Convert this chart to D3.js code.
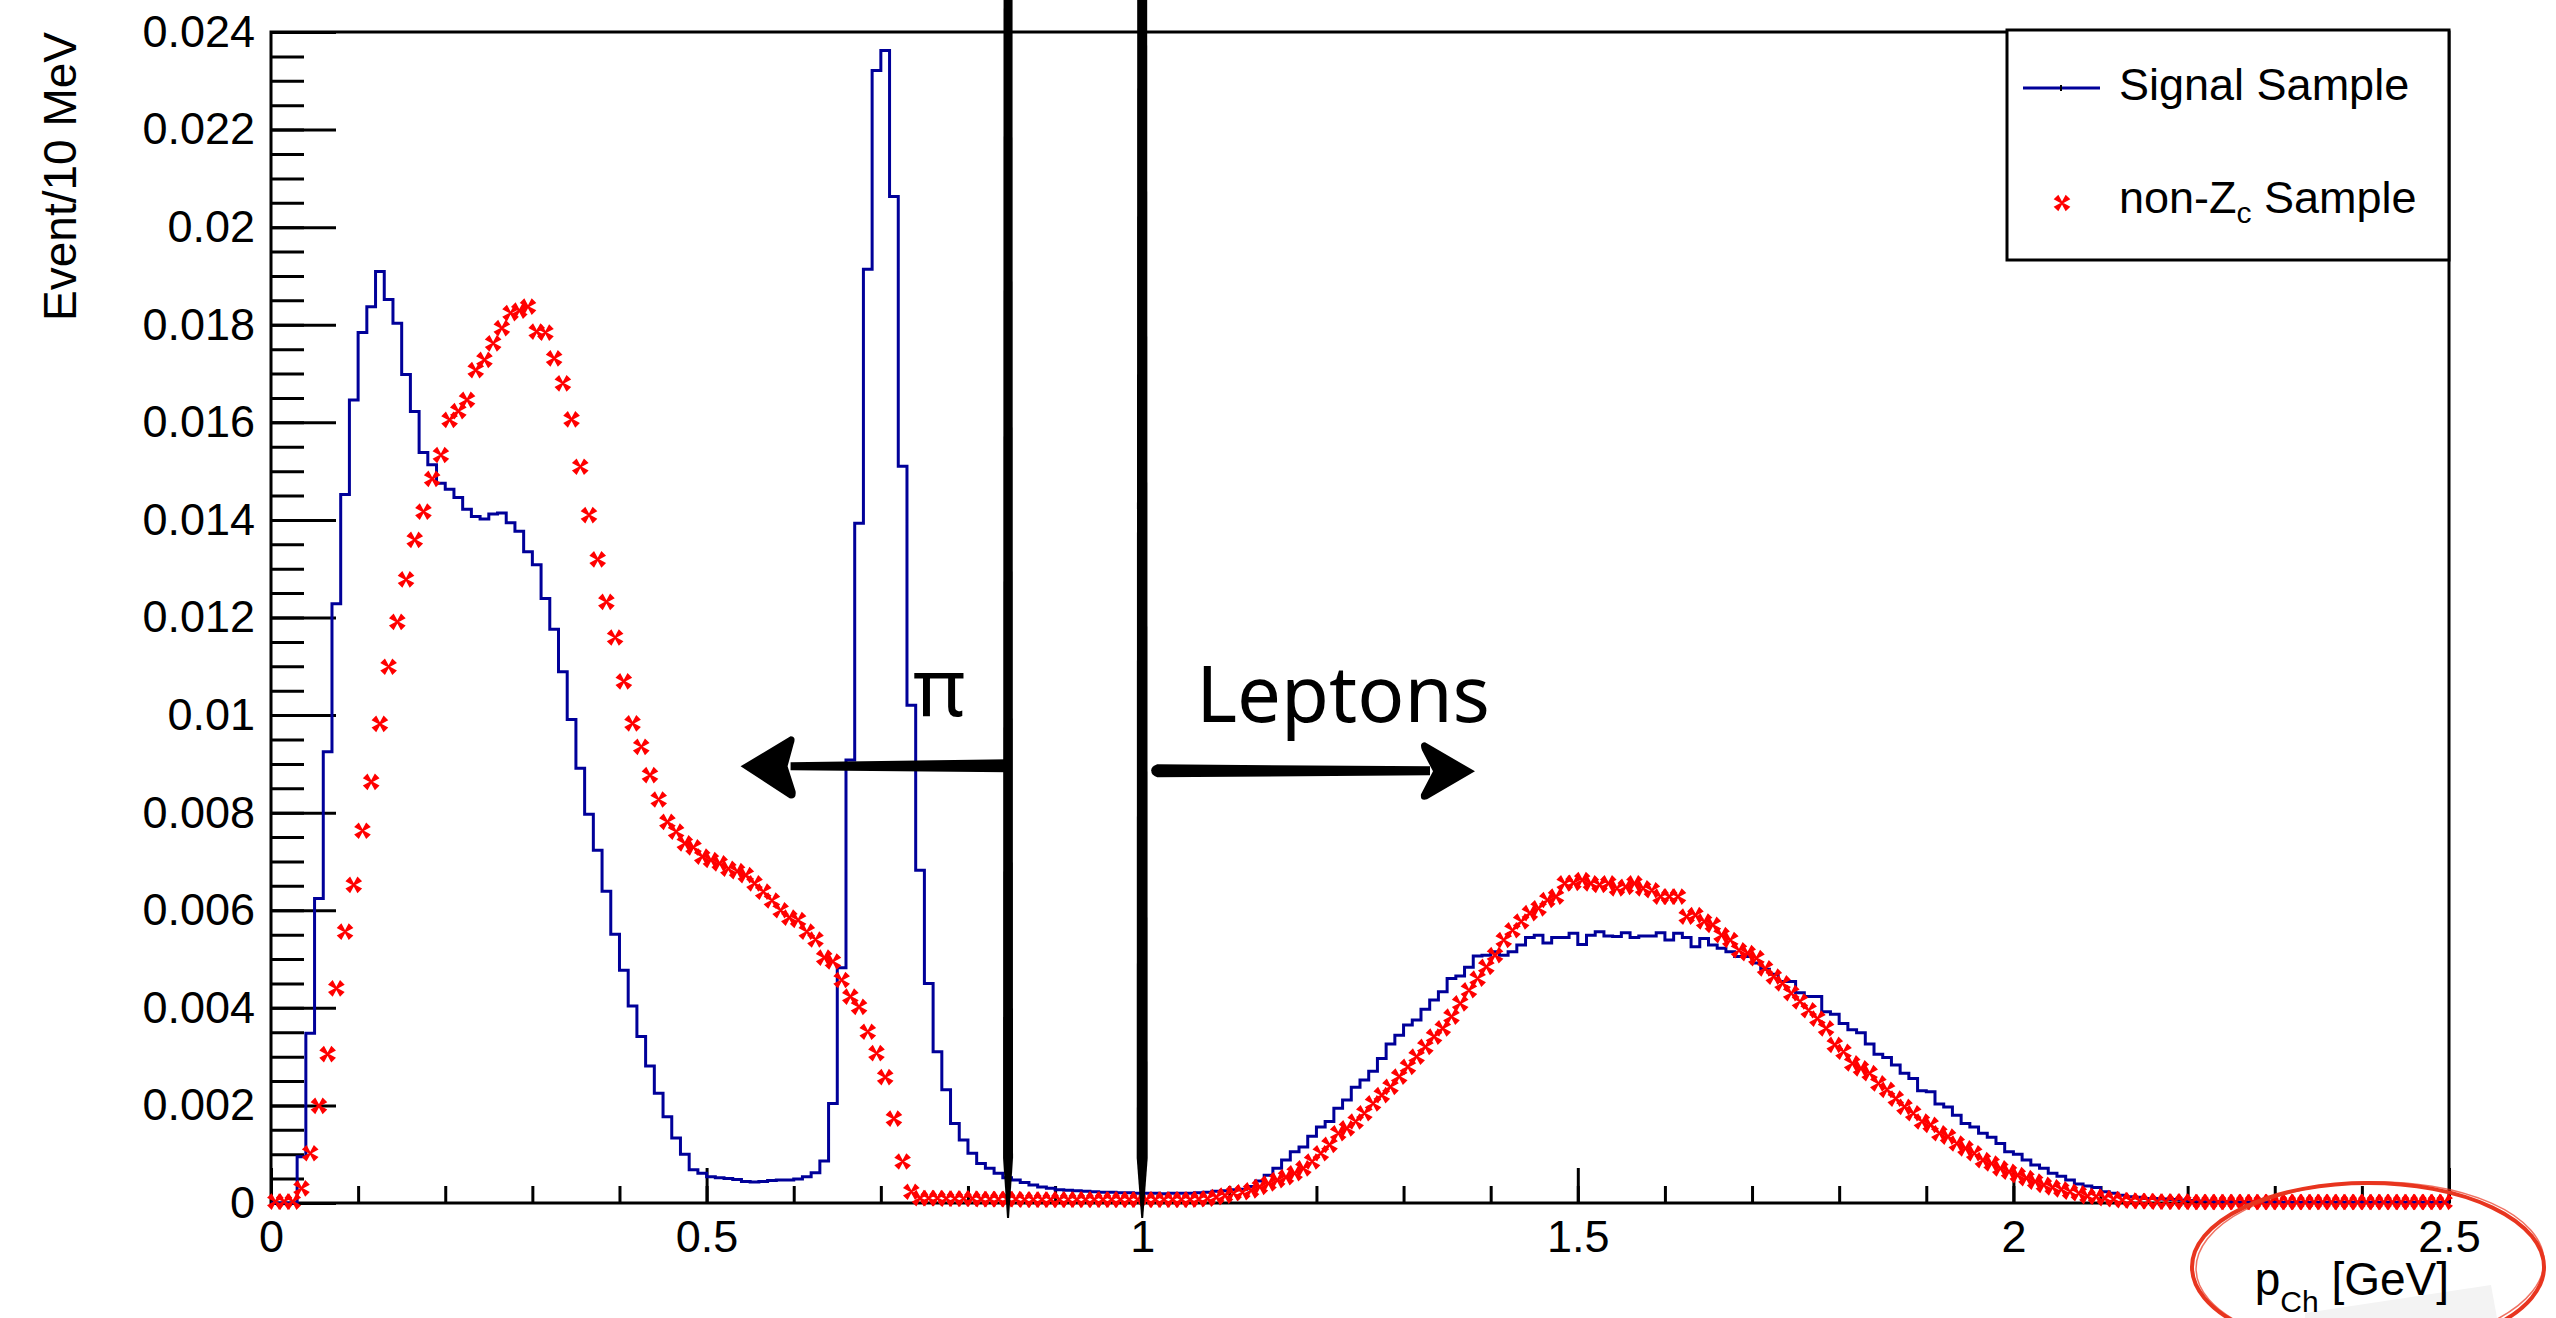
<!DOCTYPE html>
<html lang="en">

<head>
    <meta charset="UTF-8">
    <title>p_Ch - Signal Sample vs non-Zc Sample</title>
    <style>
        html,
        body {
            margin: 0;
            padding: 0;
            background: #fff;
        }

        svg {
            display: block;
        }
    </style>
</head>

<body>
    <div id="chart"></div>
    <script src="https://d3js.org/d3.v7.min.js"></script>

    <script>
        // 10 MeV bins from 0 to 2.5 GeV, contents in units of 1e-3
        const binWidth = 0.01;
        const unit = 1e-3;

        const signalSample = [
            0, 0, 0, 0.95, 3.48, 6.24, 9.25, 12.28, 14.52, 16.46,
            17.84, 18.37, 19.09, 18.52, 18.03, 16.98, 16.22, 15.38, 15.13, 14.75,
            14.63, 14.46, 14.22, 14.07, 14.02, 14.12, 14.14, 13.94, 13.77, 13.35,
            13.08, 12.39, 11.76, 10.89, 9.91, 8.91, 7.97, 7.23, 6.39, 5.51,
            4.77, 4.04, 3.41, 2.81, 2.25, 1.77, 1.33, 1.00, 0.68, 0.61,
            0.54, 0.52, 0.50, 0.48, 0.44, 0.43, 0.44, 0.46, 0.47, 0.47,
            0.49, 0.54, 0.62, 0.86, 2.04, 4.82, 9.08, 13.93, 19.14, 23.21,
            23.62, 20.63, 15.10, 10.20, 6.82, 4.50, 3.10, 2.32, 1.63, 1.29,
            1.02, 0.81, 0.71, 0.61, 0.52, 0.47, 0.42, 0.37, 0.33, 0.30,
            0.27, 0.26, 0.25, 0.24, 0.23, 0.22, 0.22, 0.21, 0.21, 0.20,
            0.20, 0.20, 0.19, 0.20, 0.20, 0.20, 0.21, 0.22, 0.24, 0.25,
            0.27, 0.28, 0.34, 0.45, 0.57, 0.71, 0.88, 1.05, 1.15, 1.37,
            1.56, 1.67, 1.94, 2.11, 2.37, 2.52, 2.70, 2.96, 3.26, 3.44,
            3.65, 3.75, 3.97, 4.16, 4.33, 4.60, 4.65, 4.83, 5.06, 5.08,
            5.15, 5.08, 5.15, 5.29, 5.44, 5.49, 5.33, 5.44, 5.44, 5.53,
            5.30, 5.49, 5.56, 5.47, 5.46, 5.54, 5.44, 5.47, 5.47, 5.54,
            5.39, 5.53, 5.44, 5.25, 5.42, 5.29, 5.22, 5.15, 5.05, 5.05,
            4.92, 4.79, 4.69, 4.54, 4.54, 4.31, 4.23, 4.23, 3.92, 3.87,
            3.68, 3.55, 3.49, 3.26, 3.05, 2.98, 2.83, 2.66, 2.55, 2.30,
            2.28, 2.03, 1.97, 1.80, 1.63, 1.56, 1.43, 1.35, 1.22, 1.05,
            1.00, 0.88, 0.78, 0.71, 0.61, 0.55, 0.47, 0.39, 0.35, 0.32,
            0.23, 0.20, 0.16, 0.13, 0.12, 0.09, 0.09, 0.08, 0.07, 0.06,
            0.05, 0.04, 0.04, 0.03, 0.03, 0.02, 0.02, 0.02, 0.01, 0.01,
            0.01, 0.01, 0.01, 0.01, 0.01, 0.01, 0.01, 0.01, 0.01, 0.01,
            0.01, 0.01, 0.01, 0.01, 0.01, 0.01, 0.01, 0.01, 0.01, 0.01
        ];

        const nonZcSample = [
            0.03, 0.03, 0.03, 0.30, 1.02, 1.99, 3.05, 4.40, 5.56, 6.52,
            7.63, 8.63, 9.82, 10.99, 11.91, 12.78, 13.59, 14.17, 14.84, 15.33,
            16.05, 16.23, 16.46, 17.07, 17.28, 17.62, 17.93, 18.24, 18.29, 18.37,
            17.86, 17.84, 17.31, 16.80, 16.06, 15.09, 14.10, 13.19, 12.32, 11.59,
            10.69, 9.83, 9.35, 8.77, 8.27, 7.81, 7.61, 7.37, 7.29, 7.10,
            7.03, 6.96, 6.85, 6.80, 6.72, 6.55, 6.38, 6.20, 6.00, 5.85,
            5.80, 5.56, 5.40, 5.03, 4.95, 4.57, 4.23, 4.02, 3.51, 3.07,
            2.58, 1.73, 0.85, 0.23, 0.10, 0.10, 0.10, 0.09, 0.09, 0.09,
            0.09, 0.08, 0.08, 0.08, 0.08, 0.08, 0.07, 0.07, 0.07, 0.07,
            0.07, 0.07, 0.07, 0.07, 0.07, 0.07, 0.07, 0.07, 0.07, 0.07,
            0.07, 0.07, 0.07, 0.07, 0.07, 0.07, 0.08, 0.09, 0.12, 0.15,
            0.20, 0.22, 0.26, 0.33, 0.40, 0.47, 0.53, 0.61, 0.71, 0.85,
            1.02, 1.19, 1.43, 1.53, 1.67, 1.84, 2.04, 2.21, 2.38, 2.59,
            2.79, 3.00, 3.20, 3.41, 3.58, 3.82, 4.09, 4.36, 4.60, 4.84,
            5.08, 5.39, 5.59, 5.77, 5.94, 6.04, 6.21, 6.28, 6.55, 6.56,
            6.62, 6.55, 6.52, 6.55, 6.45, 6.48, 6.55, 6.45, 6.41, 6.28,
            6.28, 6.28, 5.87, 5.90, 5.77, 5.70, 5.49, 5.39, 5.18, 5.12,
            5.02, 4.81, 4.64, 4.50, 4.30, 4.13, 3.95, 3.78, 3.58, 3.24,
            3.10, 2.86, 2.76, 2.66, 2.45, 2.32, 2.14, 1.97, 1.84, 1.67,
            1.60, 1.43, 1.36, 1.22, 1.12, 1.02, 0.88, 0.81, 0.71, 0.64,
            0.57, 0.51, 0.44, 0.37, 0.32, 0.28, 0.23, 0.20, 0.14, 0.13,
            0.10, 0.08, 0.06, 0.05, 0.04, 0.04, 0.03, 0.03, 0.03, 0.03,
            0.02, 0.02, 0.02, 0.02, 0.02, 0.02, 0.02, 0.02, 0.02, 0.02,
            0.02, 0.02, 0.02, 0.02, 0.02, 0.02, 0.02, 0.02, 0.02, 0.02,
            0.02, 0.02, 0.02, 0.02, 0.02, 0.02, 0.02, 0.02, 0.02, 0.02
        ];

        const xMajorTicks = [0, 0.5, 1, 1.5, 2, 2.5];
        const yMajorTicks = [0, 0.002, 0.004, 0.006, 0.008, 0.01, 0.012, 0.014, 0.016, 0.018, 0.02, 0.022, 0.024];
        const legendNames = ["Signal Sample", "non-Z", "c", " Sample"];

        // hand-drawn cut positions (GeV) and the arrow level
        const piCut = 0.846;
        const leptonCut = 1.0;
        const arrowLevel = 0.00895;

        const width = 2556;
        const height = 1318;
        const font = '"Liberation Sans", Arial, Helvetica, sans-serif';
        const blue = "#000099";
        const red = "#ff0000";

        const svg = d3.select("#chart").append("svg")
            .attr("width", width)
            .attr("height", height);

        const x = d3.scaleLinear().domain([0, 2.5]).range([271, 2449]);
        const y = d3.scaleLinear().domain([0, 0.024]).range([1203, 32]);

        // ---- frame + axes (ROOT style, ticks pointing inside)
        svg.append("rect")
            .attr("x", x(0)).attr("y", y(0.024))
            .attr("width", x(2.5) - x(0)).attr("height", y(0) - y(0.024))
            .attr("fill", "none").attr("stroke", "#000").attr("stroke-width", 3);

        const styleAxis = g => {
            g.select(".domain").remove();
            g.selectAll("line").attr("stroke", "#000").attr("stroke-width", 3);
            g.selectAll("text").attr("fill", "#000");
            g.attr("font-family", font).attr("font-size", 45);
        };
        const fmt = d => String(+d.toFixed(3));

        svg.append("g").attr("transform", `translate(0,${y(0)})`)
            .call(d3.axisBottom(x).tickValues(d3.range(0, 26).map(i => i / 10)).tickSize(-17).tickFormat(""))
            .call(styleAxis);
        svg.append("g").attr("transform", `translate(0,${y(0)})`)
            .call(d3.axisBottom(x).tickValues(xMajorTicks).tickSize(-35).tickPadding(17).tickFormat(fmt))
            .call(styleAxis);

        svg.append("g").attr("transform", `translate(${x(0)},0)`)
            .call(d3.axisLeft(y).tickValues(d3.range(0, 49).map(i => i * 0.0005)).tickSize(-33).tickFormat(""))
            .call(styleAxis);
        svg.append("g").attr("transform", `translate(${x(0)},0)`)
            .call(d3.axisLeft(y).tickValues(yMajorTicks).tickSize(-65).tickPadding(16).tickFormat(fmt))
            .call(styleAxis);

        // y title
        svg.append("text")
            .attr("transform", `translate(76,${y(0.024)}) rotate(-90)`)
            .attr("text-anchor", "end")
            .attr("font-family", font).attr("font-size", 46)
            .text("Event/10 MeV");

        // ---- signal histogram (step line)
        const edges = signalSample.map((v, i) => [i * binWidth, v * unit]);
        edges.push([signalSample.length * binWidth, signalSample[signalSample.length - 1] * unit]);

        svg.append("path")
            .datum(edges)
            .attr("fill", "none")
            .attr("stroke", blue)
            .attr("stroke-width", 3)
            .attr("d", d3.line().x(d => x(d[0])).y(d => y(d[1])).curve(d3.curveStepAfter));

        // ---- non-Zc markers (x made of four wedges)
        const markerPath = (L, w) => {
            let p = "";
            [45, 135, 225, 315].forEach(a => {
                const r = a * Math.PI / 180;
                const ux = Math.cos(r), uy = Math.sin(r);
                const px = -uy, py = ux;
                p += `M${px * 0.8},${py * 0.8}L${ux * L + px * w},${uy * L + py * w}` +
                    `L${ux * L - px * w},${uy * L - py * w}L${-px * 0.8},${-py * 0.8}Z`;
            });
            return p;
        };
        const mark = markerPath(8.5, 3.3);

        svg.append("g").selectAll("path")
            .data(nonZcSample)
            .join("path")
            .attr("transform", (d, i) => `translate(${x((i + 0.5) * binWidth)},${y(d * unit)})`)
            .attr("d", mark)
            .attr("fill", red);

        // ---- legend
        const lg = svg.append("g");
        lg.append("rect")
            .attr("x", 2007).attr("y", 30).attr("width", 442).attr("height", 230)
            .attr("fill", "#fff").attr("stroke", "#000").attr("stroke-width", 3);
        lg.append("line")
            .attr("x1", 2023).attr("x2", 2100).attr("y1", 88).attr("y2", 88)
            .attr("stroke", blue).attr("stroke-width", 3);
        lg.append("line")
            .attr("x1", 2061).attr("x2", 2061).attr("y1", 85).attr("y2", 91)
            .attr("stroke", "#000").attr("stroke-width", 2);
        lg.append("text")
            .attr("x", 2119).attr("y", 100)
            .attr("font-family", font).attr("font-size", 45)
            .text(legendNames[0]);
        lg.append("path")
            .attr("transform", "translate(2062,203)")
            .attr("d", mark).attr("fill", red);
        const t2 = lg.append("text")
            .attr("x", 2119).attr("y", 213)
            .attr("font-family", font).attr("font-size", 45);
        t2.append("tspan").text(legendNames[1]);
        t2.append("tspan").attr("font-size", 30).attr("dy", 10).text(legendNames[2]);
        t2.append("tspan").attr("dy", -10).text(legendNames[3]);

        // ---- hand-drawn annotations
        const ann = svg.append("g").attr("fill", "#000");

        // thick cut lines, tapering at the bottom
        const cutLine = (cx, w) => {
            const bottom = y(0) + 15;
            return `M${cx - w / 2},0 L${cx + w / 2},0 L${cx + w / 2 + 0.5},${bottom - 60}` +
                ` L${cx + 1},${bottom} L${cx - 1},${bottom} L${cx - w / 2 - 0.5},${bottom - 60} Z`;
        };
        ann.append("path").attr("d", cutLine(x(piCut), 9));
        ann.append("path").attr("d", cutLine(x(leptonCut), 10));

        const ay = y(arrowLevel);

        // left arrow (pions)
        const lx0 = x(piCut);
        const ltip = x(0.539);
        ann.append("path").attr("d",
            `M${lx0},${ay - 7} L${ltip + 50},${ay - 4} L${ltip + 50},${ay + 4} L${lx0},${ay + 6} Z`);
        ann.append("path").attr("d",
            `M${ltip},${ay} L${ltip + 50},${ay - 30} Q${ltip + 56},${ay - 30} ${ltip + 53},${ay - 22}` +
            ` L${ltip + 47},${ay} L${ltip + 55},${ay + 25} Q${ltip + 56},${ay + 33} ${ltip + 49},${ay + 32} Z`);

        // right arrow (leptons)
        const rx0 = x(leptonCut) + 9;
        const rtip = x(1.382);
        ann.append("path").attr("d",
            `M${rx0 + 6},${ay - 2} L${rtip - 45},${ay} L${rtip - 45},${ay + 9} L${rx0 + 6},${ay + 11}` +
            ` Q${rx0},${ay + 9} ${rx0},${ay + 4} Q${rx0},${ay} ${rx0 + 6},${ay - 2} Z`);
        ann.append("path").attr("d",
            `M${rtip},${ay + 5} L${rtip - 50},${ay - 24} Q${rtip - 56},${ay - 24} ${rtip - 53},${ay - 16}` +
            ` L${rtip - 42},${ay + 5} L${rtip - 54},${ay + 28} Q${rtip - 55},${ay + 35} ${rtip - 48},${ay + 33} Z`);

        ann.append("text")
            .attr("x", x(0.737)).attr("y", y(0.00998))
            .attr("font-family", '"Noto Sans", sans-serif').attr("font-size", 80)
            .text("π");
        ann.append("text")
            .attr("x", x(1.062)).attr("y", y(0.00985))
            .attr("font-family", '"Noto Sans", sans-serif').attr("font-size", 78)
            .text("Leptons");

        // faint smudge under the x title
        svg.append("path")
            .attr("d", "M2305,1313 L2491,1285 L2497,1318 L2305,1318 Z")
            .attr("fill", "#f3f3f3");

        // x title
        const xTitle = svg.append("text")
            .attr("x", x(2.5)).attr("y", 1295)
            .attr("text-anchor", "end")
            .attr("font-family", font).attr("font-size", 46);
        xTitle.append("tspan").text("p");
        xTitle.append("tspan").attr("font-size", 30).attr("dy", 17).text("Ch");
        xTitle.append("tspan").attr("dy", -17).text(" [GeV]");

        // red ellipse drawn around the x title
        svg.append("ellipse")
            .attr("cx", 2368).attr("cy", 1267).attr("rx", 176).attr("ry", 84)
            .attr("fill", "none").attr("stroke", "#e8351f").attr("stroke-width", 4);
        svg.append("ellipse")
            .attr("cx", 2370).attr("cy", 1265).attr("rx", 174).attr("ry", 83)
            .attr("transform", "rotate(-1.5 2370 1265)")
            .attr("fill", "none").attr("stroke", "#e8351f").attr("stroke-width", 1.5)
            .attr("opacity", 0.7);
    </script>
</body>

</html>
